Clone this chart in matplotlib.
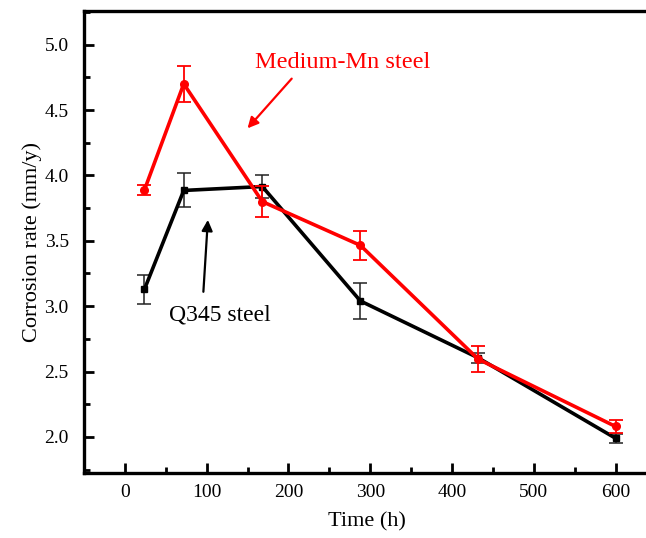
import matplotlib.pyplot as plt
from matplotlib.ticker import MultipleLocator

plt.rcParams['font.family'] = ['Liberation Serif', 'DejaVu Serif']

time_h = [24, 72, 168, 288, 432, 600]
q345_rate = [3.13, 3.885, 3.915, 3.04, 2.605, 1.99]
q345_err = [0.11, 0.13, 0.09, 0.14, 0.04, 0.035]
mn_rate = [3.89, 4.70, 3.80, 3.465, 2.595, 2.08]
mn_err = [0.04, 0.135, 0.12, 0.11, 0.10, 0.05]

fig = plt.figure(figsize=(6.46, 5.38), dpi=100)
ax = fig.add_axes([0.130, 0.121, 0.876, 0.858])

ax.errorbar(time_h, q345_rate, yerr=q345_err, color='black', lw=2.6,
            marker='s', ms=5, ecolor='#222222', elinewidth=1.1,
            capsize=5, capthick=1.1, zorder=3)
ax.errorbar(time_h, mn_rate, yerr=mn_err, color='#ff0000', lw=2.6,
            marker='o', ms=5.5, ecolor='#ff0000', elinewidth=1.3,
            capsize=5, capthick=1.3, zorder=4)

ax.set_xlim(-50, 642)
ax.set_ylim(1.725, 5.255)
ax.xaxis.set_major_locator(MultipleLocator(100))
ax.xaxis.set_minor_locator(MultipleLocator(50))
ax.yaxis.set_major_locator(MultipleLocator(0.5))
ax.yaxis.set_minor_locator(MultipleLocator(0.25))
ax.yaxis.set_major_formatter(plt.FormatStrFormatter('%.1f'))
ax.tick_params(which='both', direction='in', width=2, labelsize=14,
               top=False, right=False)
ax.tick_params(which='major', length=7)
ax.tick_params(which='minor', length=4)
ax.tick_params(axis='x', which='major', pad=8)
ax.tick_params(axis='y', which='major', pad=11)
for s in ax.spines.values():
    s.set_linewidth(2.4)

ax.set_xlabel('Time (h)', fontsize=16, labelpad=8)
ax.set_ylabel('Corrosion rate (mm/y)', fontsize=16, labelpad=2)

# red label and its arrow
ax.text(159, 4.86, 'Medium-Mn steel', color='#ff0000', fontsize=17.5,
        ha='left', va='center')
ax.annotate('', xy=(150, 4.36), xytext=(204, 4.74),
            arrowprops=dict(arrowstyle='-|>', color='#ff0000', lw=1.6,
                            mutation_scale=16, shrinkA=0, shrinkB=0))
# black label and its arrow
ax.annotate('', xy=(101.5, 3.66), xytext=(96, 3.11),
            arrowprops=dict(arrowstyle='-|>', color='black', lw=1.6,
                            mutation_scale=16, shrinkA=0, shrinkB=0))
ax.text(116, 2.93, 'Q345 steel', fontsize=17, ha='center', va='center')

fig.savefig('out.png', dpi=100)
